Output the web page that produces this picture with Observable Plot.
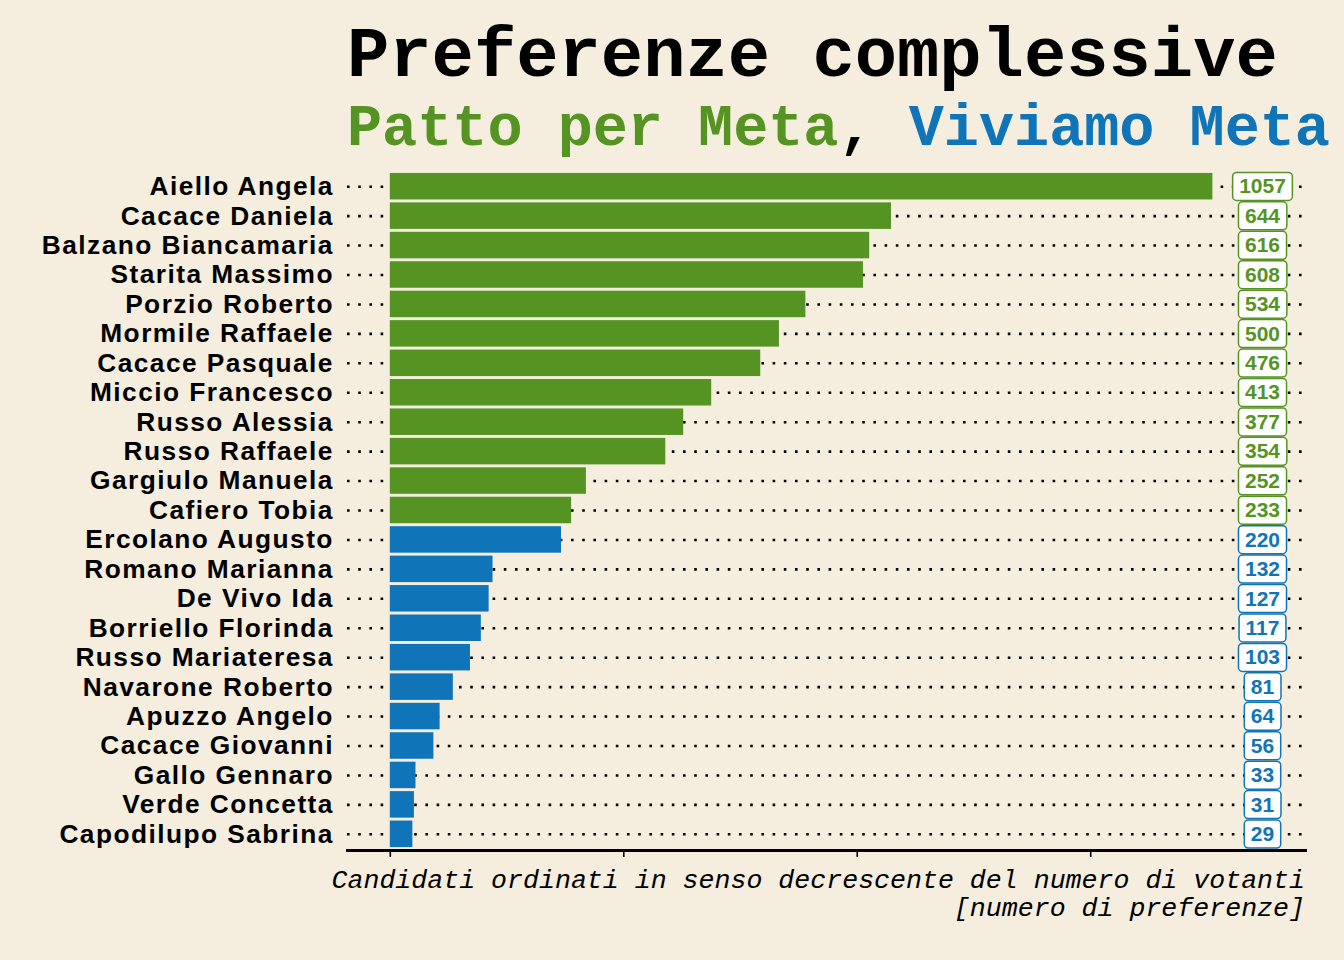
<!DOCTYPE html>
<html>
<head>
<meta charset="utf-8">
<script src="https://cdn.jsdelivr.net/npm/d3@7"></script>
<script src="https://cdn.jsdelivr.net/npm/@observablehq/plot@0.6"></script>
<style>
  html, body { margin: 0; padding: 0; background: #F5EEDE; }
  #wrap { position: relative; width: 1344px; height: 960px; background: #F5EEDE; overflow: hidden; }
  .title { position: absolute; left: 347px; top: 29px; font: 700 70.5px/56px "Liberation Mono", "Courier New", monospace; color: #000; white-space: nowrap; }
  .subtitle { position: absolute; left: 347px; top: 107px; font: 700 58.5px/46px "Liberation Mono", "Courier New", monospace; color: #000; white-space: nowrap; }
  .caption { position: absolute; right: 39px; top: 867px; font: italic 400 26.6px/28px "Liberation Mono", "Courier New", monospace; color: #000; text-align: right; white-space: nowrap; }
  #chart { position: absolute; left: 0; top: 150px; }
  #chart g[aria-label="y-axis tick label"] text { letter-spacing: 1.45px; }
</style>
</head>
<body>
<div id="wrap">
  <div class="title">Preferenze complessive</div>
  <div class="subtitle"><span style="color:#559423">Patto per Meta</span>, <span style="color:#1075B8">Viviamo Meta</span></div>
  <div id="chart"></div>
  <div class="caption">Candidati ordinati in senso decrescente del numero di votanti<br>[numero di preferenze]</div>
</div>
<script>
const names = [
  "Aiello Angela", "Cacace Daniela", "Balzano Biancamaria", "Starita Massimo",
  "Porzio Roberto", "Mormile Raffaele", "Cacace Pasquale", "Miccio Francesco",
  "Russo Alessia", "Russo Raffaele", "Gargiulo Manuela", "Cafiero Tobia",
  "Ercolano Augusto", "Romano Marianna", "De Vivo Ida", "Borriello Florinda",
  "Russo Mariateresa", "Navarone Roberto", "Apuzzo Angelo", "Cacace Giovanni",
  "Gallo Gennaro", "Verde Concetta", "Capodilupo Sabrina"
];
const votes = [1057, 644, 616, 608, 534, 500, 476, 413, 377, 354, 252, 233,
  220, 132, 127, 117, 103, 81, 64, 56, 33, 31, 29];
const lists = [
  "Patto per Meta", "Patto per Meta", "Patto per Meta", "Patto per Meta",
  "Patto per Meta", "Patto per Meta", "Patto per Meta", "Patto per Meta",
  "Patto per Meta", "Patto per Meta", "Patto per Meta", "Patto per Meta",
  "Viviamo Meta", "Viviamo Meta", "Viviamo Meta", "Viviamo Meta",
  "Viviamo Meta", "Viviamo Meta", "Viviamo Meta", "Viviamo Meta",
  "Viviamo Meta", "Viviamo Meta", "Viviamo Meta"
];
const listNames = ["Patto per Meta", "Viviamo Meta"];
const listColors = ["#559423", "#1075B8"];
const xTicks = [0, 300, 600, 900];

const data = names.map((n, i) => ({name: n, votes: votes[i], list: lists[i]}));
const colorOf = l => listColors[listNames.indexOf(l)];

const plot = Plot.plot({
  width: 1344,
  height: 720,
  marginLeft: 347,
  marginRight: 39,
  marginTop: 20,
  marginBottom: 20,
  style: {background: "transparent", fontFamily: "'Liberation Sans', Arial, Helvetica, sans-serif", fontSize: "26px", color: "#000"},
  x: {domain: [-55, 1176], axis: null},
  y: {domain: names, axis: null, padding: 0.1, round: false},
  color: {domain: listNames, range: listColors},
  marks: [
    Plot.ruleY(data, {y: "name", stroke: "#000", strokeWidth: 2.6, strokeDasharray: "2.6 8.6"}),
    Plot.barX(data, {y: "name", x1: 0, x2: "votes", fill: "list"}),
    Plot.text(data, {
      y: "name", text: d => String(d.votes), frameAnchor: "right", dx: -43,
      textAnchor: "middle", fill: "list", fontSize: 21, fontWeight: "bold"
    }),
    Plot.axisY({domain: names, tickSize: 0, tickPadding: 13.6, fontWeight: "bold", fontSize: 26.3, fill: "#000", label: null}),
    Plot.axisX({ticks: xTicks, tickFormat: () => "", tickSize: 7, strokeWidth: 1.6, stroke: "#000", label: null}),
    Plot.frame({anchor: "bottom", stroke: "#000", strokeWidth: 3})
  ]
});
document.getElementById("chart").appendChild(plot);

// white rounded boxes behind the value labels
const groups = Array.from(plot.querySelectorAll('g[aria-label="text"]'));
groups.forEach(g => {
  const texts = Array.from(g.querySelectorAll("text"));
  texts.forEach((t, i) => {
    const bb = t.getBBox();
    const rect = document.createElementNS("http://www.w3.org/2000/svg", "rect");
    const padX = 6.5, h = 28;
    const cy = bb.y + bb.height / 2 + 0.5;
    rect.setAttribute("x", bb.x - padX);
    rect.setAttribute("y", cy - h / 2);
    rect.setAttribute("width", bb.width + 2 * padX);
    rect.setAttribute("height", h);
    rect.setAttribute("rx", 4);
    rect.setAttribute("ry", 4);
    rect.setAttribute("fill", "#fff");
    rect.setAttribute("stroke", colorOf(data[i].list));
    rect.setAttribute("stroke-width", 1.5);
    const tr = t.getAttribute("transform");
    if (tr) rect.setAttribute("transform", tr);
    t.parentNode.insertBefore(rect, t);
  });
});
</script>
</body>
</html>
